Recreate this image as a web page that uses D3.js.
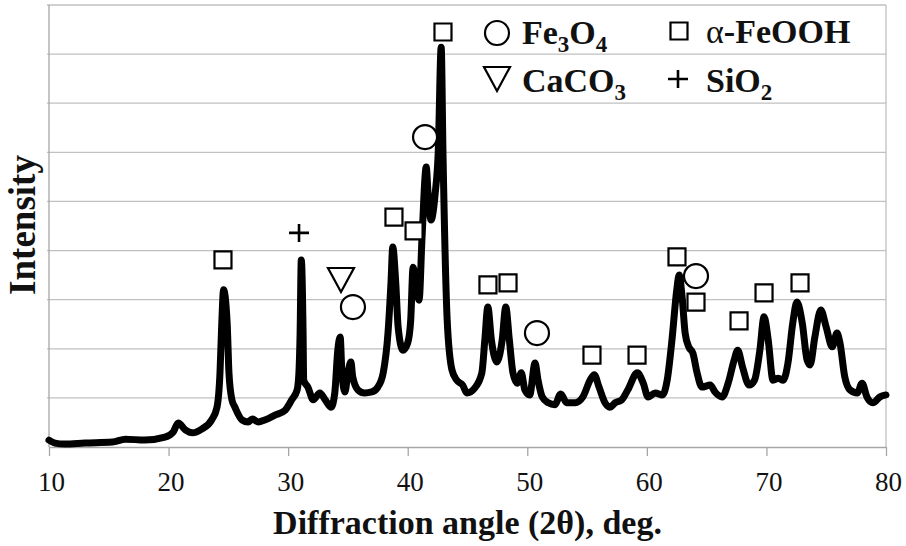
<!DOCTYPE html>
<html>
<head>
<meta charset="utf-8">
<script src="https://cdn.jsdelivr.net/npm/d3@7"></script>
<style>
  body { margin: 0; background: #fff; }
  text { font-family: "Liberation Serif", "Times New Roman", serif; }
</style>
</head>
<body>
<div id="vis"></div>
<script>
const FRAME_WIDTH = 906;
const FRAME_HEIGHT = 546;
const MARGINS = {left: 49, right: 20, top: 5, bottom: 99};
const VIS_WIDTH = FRAME_WIDTH - MARGINS.left - MARGINS.right;
const VIS_HEIGHT = FRAME_HEIGHT - MARGINS.top - MARGINS.bottom;

// diffraction pattern (angle, intensity in arbitrary units)
const ANGLES = [10.0, 10.5, 11.3, 13.0, 15.3, 16.4, 18.0, 19.7, 20.4, 20.8, 21.4, 22.0, 22.8, 23.6,
  24.05, 24.3, 24.45, 24.6, 24.9, 25.05, 25.3, 25.55, 26.15, 26.65, 27.0, 27.5, 28.05, 28.9, 29.75,
  30.3, 30.75, 30.9, 31.0, 31.1, 31.25, 31.3, 31.65, 32.1, 32.65, 33.1, 33.6, 33.9, 34.15, 34.35,
  34.5, 34.75, 35.0, 35.25, 35.4, 35.85, 36.4, 37.0, 37.5, 37.95, 38.35, 38.6, 38.75, 39.0, 39.2,
  39.6, 40.0, 40.25, 40.45, 40.8, 40.95, 41.2, 41.55, 41.7, 41.95, 42.3, 42.55, 42.8, 42.95, 43.3,
  43.7, 44.1, 44.6, 44.95, 45.6, 46.2, 46.45, 46.7, 47.0, 47.45, 47.9, 48.2, 48.5, 48.8, 49.15,
  49.5, 49.8, 50.2, 50.65, 50.9, 51.25, 51.75, 52.3, 52.8, 53.3, 54.0, 54.65, 55.25, 55.6, 56.0,
  56.5, 56.9, 57.35, 57.9, 58.4, 59.2, 59.7, 60.1, 60.7, 61.3, 61.7, 62.1, 62.5, 62.7, 62.95,
  63.2, 63.5, 63.85, 64.2, 64.6, 65.3, 65.7, 66.3, 66.8, 67.3, 67.6, 68.0, 68.55, 69.0, 69.45,
  69.8, 70.15, 70.55, 71.0, 71.4, 71.8, 72.2, 72.55, 73.0, 73.4, 73.65, 74.05, 74.55, 75.0, 75.5,
  75.9, 76.15, 76.55, 77.0, 77.6, 78.0, 78.4, 78.9, 79.5, 80.0];
const INTENSITY = [14, 8, 6, 8, 10, 16, 14, 20, 31, 49, 35, 29, 37, 55,
  81, 151, 252, 320, 252, 151, 96, 81, 55, 51, 57, 51, 55, 65, 75,
  96, 116, 151, 232, 381, 232, 136, 122, 96, 110, 96, 81, 110, 197, 224,
  151, 112, 151, 173, 143, 116, 110, 112, 122, 151, 232, 334, 407, 334, 244,
  197, 212, 258, 366, 313, 299, 428, 570, 517, 462, 517, 599, 814, 599, 259,
  157, 136, 126, 110, 120, 151, 218, 285, 218, 173, 218, 285, 218, 151, 130,
  151, 116, 106, 171, 136, 102, 90, 86, 108, 90, 90, 102, 136, 147, 122,
  90, 81, 90, 96, 116, 151, 130, 102, 110, 106, 136, 218, 320, 350, 305,
  232, 204, 191, 151, 122, 126, 112, 102, 130, 177, 197, 163, 126, 136, 197,
  265, 218, 136, 140, 136, 171, 252, 295, 252, 177, 167, 224, 279, 244, 204,
  232, 212, 143, 116, 110, 130, 102, 90, 102, 106];

// phase markers [angle, intensity]
const GOETHITE = [[24.55, 381], [38.85, 468], [40.53, 440], [42.95, 845], [46.71, 330], [48.39, 334],
  [55.41, 187], [59.18, 187], [62.52, 387], [64.11, 295], [67.71, 257], [69.80, 314], [72.81, 334]];
const MAGNETITE = [[35.42, 285], [41.45, 631], [50.81, 232], [64.11, 348]];
const CALCITE = [[34.42, 340]];
const QUARTZ = [[30.91, 436]];

const X_TICKS = [10, 20, 30, 40, 50, 60, 70, 80];
const Y_GRID = [100, 200, 300, 400, 500, 600, 700, 800, 900];

const X_SCALE = d3.scaleLinear().domain([10, 80]).range([0, VIS_WIDTH]);
const Y_SCALE = d3.scaleLinear().domain([0, 900]).range([VIS_HEIGHT, 0]);

const GRID_COLOR = "#c0c0c0";

const FRAME = d3.select("#vis")
  .append("svg")
    .attr("width", FRAME_WIDTH)
    .attr("height", FRAME_HEIGHT);

const PLOT = FRAME.append("g")
  .attr("transform", "translate(" + MARGINS.left + "," + MARGINS.top + ")");

// gridlines
PLOT.selectAll(".grid")
  .data(Y_GRID)
  .enter()
  .append("line")
    .attr("x1", -2)
    .attr("x2", VIS_WIDTH)
    .attr("y1", (d) => Y_SCALE(d))
    .attr("y2", (d) => Y_SCALE(d))
    .attr("stroke", GRID_COLOR)
    .attr("stroke-width", 1.3);

// right border
PLOT.append("line")
  .attr("x1", VIS_WIDTH).attr("x2", VIS_WIDTH)
  .attr("y1", 0).attr("y2", VIS_HEIGHT)
  .attr("stroke", GRID_COLOR)
  .attr("stroke-width", 1.3);

// left axis, no labels
PLOT.append("line")
  .attr("x1", 0).attr("x2", 0)
  .attr("y1", 0).attr("y2", VIS_HEIGHT)
  .attr("stroke", "#a6a6a6")
  .attr("stroke-width", 1.3);

// x axis
const X_AXIS = PLOT.append("g")
  .attr("transform", "translate(0," + VIS_HEIGHT + ")")
  .call(d3.axisBottom(X_SCALE).tickValues(X_TICKS).tickSize(9).tickPadding(16).tickSizeOuter(0));
X_AXIS.select(".domain").attr("stroke", "#a6a6a6").attr("stroke-width", 1.3);
X_AXIS.selectAll(".tick line").attr("stroke", "#a6a6a6").attr("stroke-width", 1.3);
X_AXIS.selectAll(".tick text")
  .attr("font-family", "'Liberation Serif', 'Times New Roman', serif")
  .attr("font-size", 27)
  .attr("fill", "#111")
  .attr("dx", 2);

// the pattern
const LINE = d3.line()
  .x((d, i) => X_SCALE(ANGLES[i]))
  .y((d) => Y_SCALE(d))
  .curve(d3.curveMonotoneX);

PLOT.append("path")
  .datum(INTENSITY)
  .attr("d", LINE)
  .attr("fill", "none")
  .attr("stroke", "#000")
  .attr("stroke-width", 7)
  .attr("stroke-linejoin", "round")
  .attr("stroke-linecap", "round");

// marker shapes
const SQUARE = "M-8.5,-8.5H8.5V8.5H-8.5Z";
const CIRCLE = "M12,0A12,12 0 1,1 -12,0A12,12 0 1,1 12,0Z";
const TRIANGLE = "M-13,-12H13L0,12Z";
const PLUS = "M-10,0H10M0,-9V9";

function drawMarks(data, shape) {
  PLOT.selectAll(null)
    .data(data)
    .enter()
    .append("path")
      .attr("transform", (d) => "translate(" + X_SCALE(d[0]) + "," + Y_SCALE(d[1]) + ")")
      .attr("d", shape)
      .attr("fill", shape === PLUS ? "none" : "#fff")
      .attr("stroke", "#000")
      .attr("stroke-width", shape === PLUS ? 2.6 : 2.2);
}
drawMarks(GOETHITE, SQUARE);
drawMarks(MAGNETITE, CIRCLE);
drawMarks(CALCITE, TRIANGLE);
drawMarks(QUARTZ, PLUS);

// legend
const LEGEND = [
  {shape: CIRCLE, x: 497, y: 33, tx: 522, ty: 44, parts: [["Fe", 0], ["3", 1], ["O", 0], ["4", 1]]},
  {shape: SQUARE, x: 679, y: 31, tx: 706, ty: 43, parts: [["\u03b1", 2], ["-FeOOH", 0]]},
  {shape: TRIANGLE, x: 497, y: 79, tx: 522, ty: 92, parts: [["CaCO", 0], ["3", 1]]},
  {shape: PLUS, x: 678, y: 79, tx: 706, ty: 92, parts: [["SiO", 0], ["2", 1]]}
];

LEGEND.forEach((item) => {
  FRAME.append("path")
    .attr("transform", "translate(" + item.x + "," + item.y + ")")
    .attr("d", item.shape)
    .attr("fill", item.shape === PLUS ? "none" : "#fff")
    .attr("stroke", "#000")
    .attr("stroke-width", item.shape === PLUS ? 2.6 : 2.2);

  const t = FRAME.append("text")
    .attr("x", item.tx)
    .attr("y", item.ty)
    .attr("font-size", 34)
    .attr("font-weight", "bold")
    .attr("fill", "#111");
  let sub = false;
  item.parts.forEach((p) => {
    const span = t.append("tspan").text(p[0]);
    if (p[1] === 1) {
      span.attr("font-size", 23).attr("dy", sub ? 0 : 8);
      sub = true;
    } else {
      if (sub) span.attr("dy", -8);
      sub = false;
      if (p[1] === 2) span.attr("font-weight", "normal");
    }
  });
});

// axis titles
FRAME.append("text")
  .attr("x", MARGINS.left + VIS_WIDTH / 2)
  .attr("y", 534)
  .attr("text-anchor", "middle")
  .attr("font-size", 34)
  .attr("font-weight", "bold")
  .attr("fill", "#111")
  .text("Diffraction angle (2\u03b8), deg.");

FRAME.append("text")
  .attr("transform", "translate(35,225) rotate(-90)")
  .attr("text-anchor", "middle")
  .attr("font-size", 37)
  .attr("font-weight", "bold")
  .attr("fill", "#111")
  .text("Intensity");
</script>
</body>
</html>
